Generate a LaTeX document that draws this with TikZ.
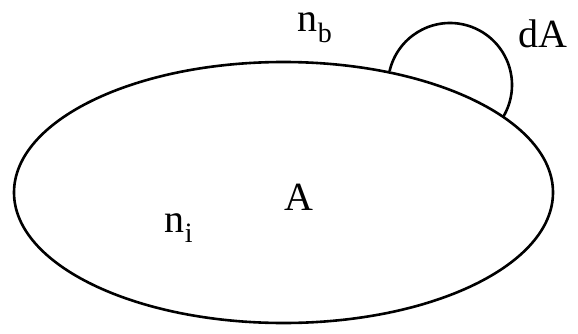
\documentclass[tikz,border=0pt]{standalone}
\usepackage{fontspec}
\setmainfont{Liberation Serif}
\usetikzlibrary{shapes.geometric}
\begin{document}
\begin{tikzpicture}[x=1pt, y=1pt]
        \useasboundingbox (0,0) rectangle (578,333);

        % Omraade A
        \node[draw, ellipse, line width=2.6pt, minimum width=539pt, minimum height=261pt, inner sep=0pt] 
            (omr) at (283.5, 140.5) {};

        % Liten bue dA paa randen
        \draw[line width=2.6pt] (450,248) ++(167:62) arc[start angle=167, end angle=-31, radius=62];

        % Tekster
        \node[font=\fontsize{40}{48}\selectfont, inner sep=0pt] (lblA) at (299, 136) {A};
        \node[font=\fontsize{40}{48}\selectfont, inner sep=0pt] (lblni) at (179, 105) {n\textsubscript{i}};
        \node[font=\fontsize{40}{48}\selectfont, inner sep=0pt] (lblnb) at (315, 305) {n\textsubscript{b}};
        \node[font=\fontsize{40}{48}\selectfont, inner sep=0pt] (lbldA) at (543, 299) {dA};
    \end{tikzpicture}
\end{document}
